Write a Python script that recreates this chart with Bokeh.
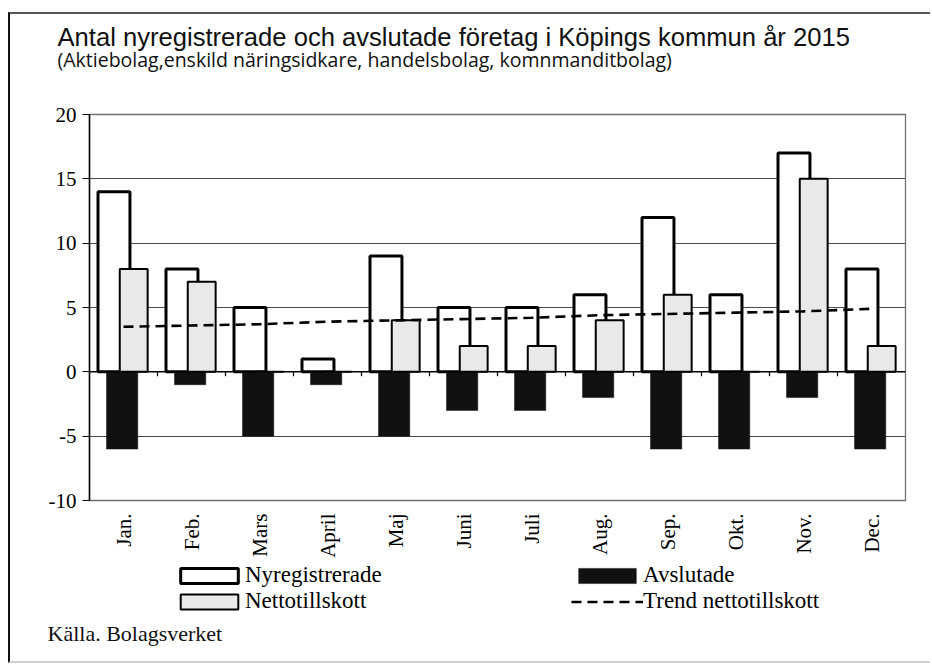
from bokeh.plotting import figure
from bokeh.models import (Range1d, FixedTicker, LinearAxis, Legend, LegendItem,
                          Title, ColumnDataSource, Span)
from bokeh.layouts import column
from bokeh.transform import dodge
from bokeh.embed import file_html
from bokeh.resources import INLINE
import math

# ---- data ----
months = ["Jan.", "Feb.", "Mars", "April", "Maj", "Juni", "Juli", "Aug.",
          "Sep.", "Okt.", "Nov.", "Dec."]
nyregistrerade = [14, 8, 5, 1, 9, 5, 5, 6, 12, 6, 17, 8]
avslutade = [-6, -1, -5, -1, -5, -3, -3, -2, -6, -6, -2, -6]
nettotillskott = [8, 7, 0, 0, 4, 2, 2, 4, 6, 0, 15, 2]
trend_netto = [3.5, 3.6, 3.7, 3.9, 4.0, 4.1, 4.2, 4.4, 4.5, 4.6, 4.7, 4.9]
y_ticks = [-10, -5, 0, 5, 10, 15, 20]

title_text = "Antal nyregistrerade och avslutade företag i Köpings kommun år 2015"
subtitle_text = "(Aktiebolag,enskild näringsidkare, handelsbolag, komnmanditbolag)"
source_text = "Källa. Bolagsverket"
legend_labels = ["Nyregistrerade", "Nettotillskott", "Avslutade", "Trend nettotillskott"]

W = 920
BORDERS = dict(min_border_left=79, min_border_right=25)
NY_STYLE = dict(fill_color="white", line_color="black", line_width=3)
NE_STYLE = dict(fill_color="#e9e9e9", line_color="black", line_width=2)
AV_STYLE = dict(fill_color="#111111", line_color="#111111", line_width=0.5)
TR_STYLE = dict(line_dash="10 6", line_width=2.6, line_color="black")

xs = list(range(len(months)))
src = ColumnDataSource(dict(x=xs, ny=nyregistrerade, av=avslutade,
                            ne=nettotillskott, tr=trend_netto))


def blank(height, top, bottom, y_range):
    f = figure(width=W, height=height, x_range=Range1d(-0.5, len(months) - 0.5),
               y_range=y_range, x_axis_location=None, y_axis_location=None,
               title=None, output_backend="svg", toolbar_location=None,
               min_border_top=top, min_border_bottom=bottom, **BORDERS)
    f.outline_line_color = None
    f.grid.visible = False
    f.background_fill_color = "white"
    f.border_fill_color = "white"
    return f


# ---- header: title and subtitle ----
head = blank(86, 58, 0, Range1d(0, 1))
head.add_layout(Title(text=subtitle_text, align="left", offset=-32, standoff=0,
                      text_font="Open Sans", text_font_size="19.5px",
                      text_font_style="normal", text_color="#111111"), "above")
head.add_layout(Title(text=title_text, align="left", offset=-32, standoff=-14,
                      text_font="Liberation Sans", text_font_size="25.6px",
                      text_font_style="normal", text_color="#111111"), "above")

# ---- main chart ----
p = figure(width=W, height=460, x_range=Range1d(-0.5, len(months) - 0.5),
           y_range=Range1d(min(y_ticks), max(y_ticks)),
           x_axis_location=None, title=None,
           output_backend="svg", toolbar_location=None,
           min_border_top=14, min_border_bottom=58, **BORDERS)
p.background_fill_color = "white"
p.border_fill_color = "white"
p.outline_line_color = "#707070"
p.outline_line_width = 1.3

p.xgrid.visible = False
p.ygrid.ticker = FixedTicker(ticks=[t for t in y_ticks if t != 0])
p.ygrid.grid_line_color = "#4a4a4a"
p.ygrid.grid_line_width = 1.2

p.yaxis.ticker = FixedTicker(ticks=y_ticks)
p.yaxis.major_label_overrides = {t: str(t) for t in y_ticks}
p.yaxis.axis_line_color = "black"
p.yaxis.axis_line_width = 1.5
p.yaxis.major_tick_line_color = "black"
p.yaxis.major_tick_out = 7
p.yaxis.major_tick_in = 0
p.yaxis.minor_tick_line_color = None
p.yaxis.major_label_standoff = 6
p.yaxis.major_label_text_font = "Liberation Serif"
p.yaxis.major_label_text_font_size = "21px"
p.yaxis.major_label_text_color = "black"

xa = LinearAxis()
xa.ticker = FixedTicker(ticks=xs)
xa.major_label_overrides = {i: m for i, m in zip(xs, months)}
xa.major_label_orientation = math.pi / 2
xa.axis_line_color = None
xa.major_tick_line_color = None
xa.minor_tick_line_color = None
xa.major_tick_out = 0
xa.major_tick_in = 0
xa.major_label_standoff = 13
xa.major_label_text_font = "Liberation Serif"
xa.major_label_text_font_size = "21px"
xa.major_label_text_color = "black"
p.add_layout(xa, "below")

p.vbar(x=dodge("x", -0.14, range=p.x_range), top="ny", bottom=0, width=0.47,
       source=src, **NY_STYLE)
p.vbar(x=dodge("x", 0.15, range=p.x_range), top="ne", bottom=0, width=0.41,
       source=src, **NE_STYLE)
p.vbar(x=dodge("x", -0.02, range=p.x_range), top=0, bottom="av", width=0.46,
       source=src, **AV_STYLE)

p.add_layout(Span(location=0, dimension="width", line_color="black", line_width=1.5))
bounds = [i + 0.5 for i in xs[:-1]]
p.segment(x0=bounds, y0=[0] * len(bounds), x1=bounds, y1=[-0.35] * len(bounds),
          line_color="black", line_width=1.2)

p.line(x="x", y="tr", source=src, **TR_STYLE)

# ---- footer: legend and source ----
# legend carriers: hidden renderers of the same series (only the swatches show)
foot = blank(101, 0, 43, Range1d(1000, 1001))
g_ny = foot.vbar(x="x", top="ny", bottom=0, width=0.47, source=src, **NY_STYLE)
g_ne = foot.vbar(x="x", top="ne", bottom=0, width=0.41, source=src, **NE_STYLE)
g_av = foot.vbar(x="x", top=0, bottom="av", width=0.46, source=src, **AV_STYLE)
g_tr = foot.line(x="x", y="tr", source=src, **TR_STYLE)
for g in (g_ny, g_ne, g_av, g_tr):
    g.visible = False
legend = Legend(items=[LegendItem(label=l, renderers=[r]) for l, r in
                       zip(legend_labels, [g_ny, g_ne, g_av, g_tr])],
                location=(84, 4), ncols=2, orientation="vertical",
                glyph_width=72, glyph_height=19, label_height=19, label_standoff=0,
                label_width=326, spacing=0, padding=0, margin=0,
                border_line_color=None, background_fill_alpha=0,
                label_text_font="Liberation Serif", label_text_font_size="23px",
                label_text_color="black")
foot.add_layout(legend)
foot.add_layout(Title(text=source_text, align="left", offset=-42, standoff=0,
                      text_font="Liberation Serif", text_font_size="22px",
                      text_font_style="normal", text_color="#111111"), "below")

layout = column(head, p, foot, spacing=0)
layout.styles = {"margin-left": "8px", "margin-top": "12px",
                 "border-left": "2px solid #111", "border-top": "2px solid #555",
                 "border-bottom": "2px solid #d0d0d0"}

open("out.html", "w").write(file_html(layout, INLINE))
